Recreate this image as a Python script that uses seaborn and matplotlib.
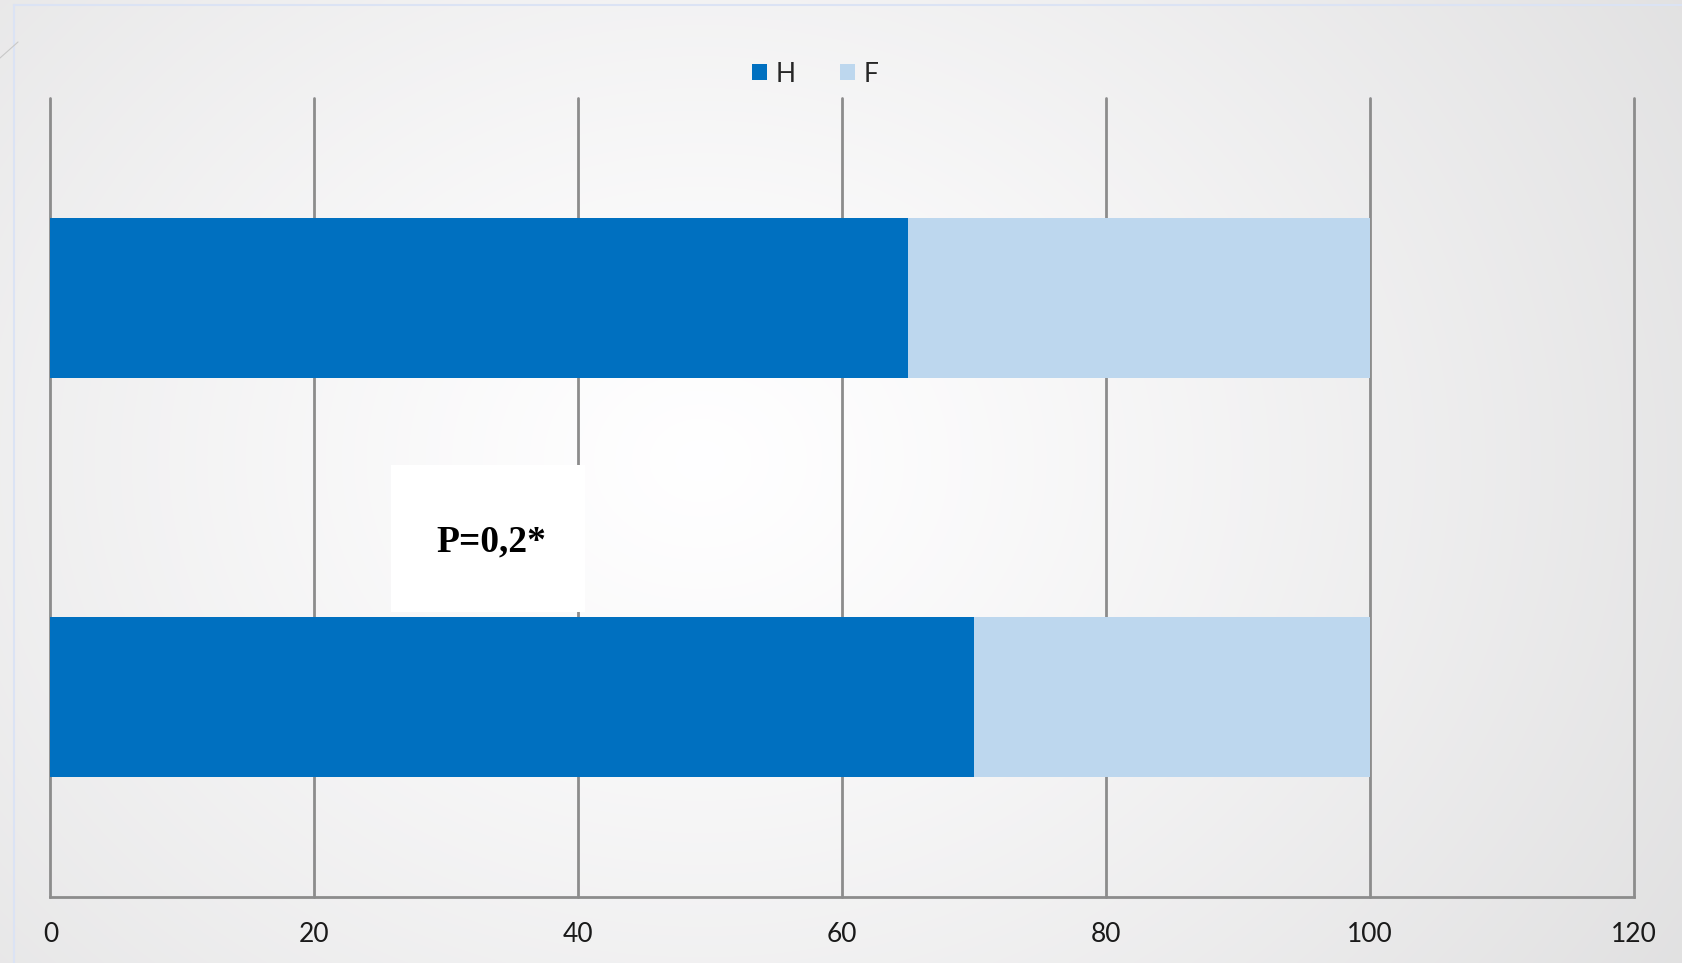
import numpy as np
import pandas as pd
import matplotlib
matplotlib.use("Agg")
import matplotlib.pyplot as plt
from matplotlib.patches import Rectangle
import seaborn as sns

# ---- data ----
categories = ["Groupe 1", "Groupe 2"]
h_values = [65, 70]
f_values = [35, 30]
series_names = ["H", "F"]
x_ticks = [0, 20, 40, 60, 80, 100, 120]
annotation = "P=0,2*"

colors = {"H": "#0070C0", "F": "#BDD7EE"}

sns.set_theme(style="white")
plt.rcParams["font.family"] = ["Lato", "DejaVu Sans"]

W, H = 1683, 963
fig = plt.figure(figsize=(W / 100, H / 100), dpi=100)

# background radial gradient
bg = fig.add_axes([0, 0, 1, 1], zorder=-10)
yy, xx = np.mgrid[0:H, 0:W]
cx, cy = 700, 460
r = np.sqrt(((xx - cx) / 1000.0) ** 2 + ((yy - cy) / 820.0) ** 2)
v = 255 - 25 * np.clip(r, 0, 1.3) ** 1.2
img = np.dstack([v, v - 0.3, v + 0.3]).clip(0, 255) / 255.0
bg.imshow(img, aspect="auto", extent=[0, W, H, 0])
bg.set_xlim(0, W)
bg.set_ylim(H, 0)
bg.axis("off")
# thin slide frame lines
bg.plot([14, 14], [5, H], color="#dbe3f4", lw=1.5)
bg.plot([14, W], [5, 5], color="#dbe3f4", lw=1.5)
bg.plot([0, 18], [58, 42], color="#c8c8c8", lw=0.8)

ax = fig.add_axes([50.4 / W, 1 - 897 / H, (1633.6 - 50.4) / W, (897 - 98) / H])
ax.set_facecolor("none")

df = pd.DataFrame({"cat": categories, "H": h_values, "F": f_values})
df["total"] = df["H"] + df["F"]

sns.barplot(data=df, y="cat", x="total", orient="h", color=colors["F"],
            width=0.4, ax=ax, saturation=1, zorder=2, linewidth=0)
sns.barplot(data=df, y="cat", x="H", orient="h", color=colors["H"],
            width=0.4, ax=ax, saturation=1, zorder=3, linewidth=0)

ax.set_xlim(0, 120)
ax.set_ylim(1.5, -0.5)
ax.set_xticks(x_ticks)
ax.set_xticklabels([str(t) for t in x_ticks], fontsize=19, color="#1a1a1a")
ax.set_yticks([])
ax.set_xlabel("")
ax.set_ylabel("")
ax.tick_params(axis="x", length=0, pad=18)
ax.grid(axis="x", color="#8c8c8c", lw=2)
ax.set_axisbelow(True)
for g in ax.get_xgridlines():
    g.set_clip_on(False)
for s in ["top", "left", "right"]:
    ax.spines[s].set_visible(False)
ax.spines["bottom"].set_color("#8c8c8c")
ax.spines["bottom"].set_linewidth(2)

# annotation box
rect = Rectangle((391 / W, 1 - 612 / H), 194 / W, 147 / H, transform=fig.transFigure,
                 facecolor="white", edgecolor="none", zorder=1.5)
ax.add_patch(rect)
ax.text(491 / W, 1 - 542 / H, annotation, transform=fig.transFigure,
        ha="center", va="center", fontsize=27, fontweight="bold",
        family=["Liberation Serif", "DejaVu Serif"], color="black", zorder=4)

handles = [Rectangle((0, 0), 1, 1, facecolor=colors[n], edgecolor="none") for n in series_names]
fig.legend(handles, series_names, loc="center", bbox_to_anchor=(815 / W, 1 - 74 / H),
           ncol=2, frameon=False, fontsize=19, handlelength=0.58, handleheight=0.58,
           handletextpad=0.3, columnspacing=1.7)

fig.savefig("out.png", dpi=100)
